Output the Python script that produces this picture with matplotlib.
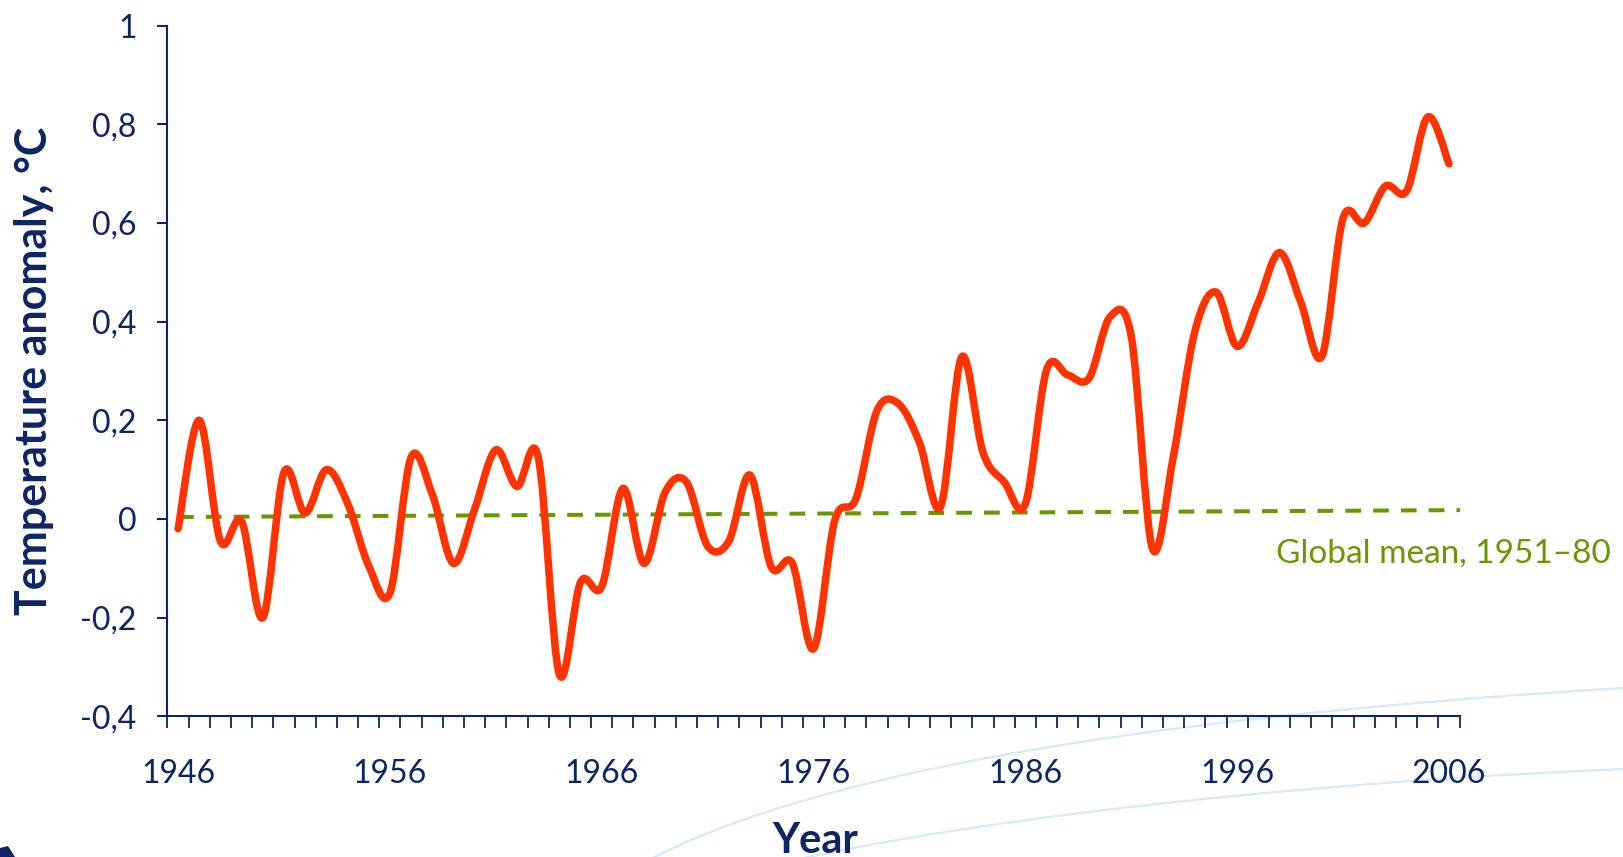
import numpy as np
import matplotlib
matplotlib.use("Agg")
import matplotlib.pyplot as plt
from matplotlib.path import Path
from matplotlib.patches import PathPatch, Polygon

plt.rcParams['font.family'] = ['Lato', 'DejaVu Sans']

# data
years = list(range(1946, 2007))
anomaly = [-0.02, 0.20, -0.045, -0.005, -0.20, 0.095, 0.012, 0.10, 0.032, -0.095,
           -0.15, 0.125, 0.05, -0.09, 0.02, 0.14, 0.066, 0.126, -0.315, -0.128,
           -0.137, 0.062, -0.09, 0.055, 0.075, -0.055, -0.045, 0.089, -0.097, -0.09,
           -0.263, -0.003, 0.041, 0.22, 0.234, 0.155, 0.025, 0.329, 0.135, 0.075,
           0.031, 0.302, 0.292, 0.285, 0.41, 0.37, -0.06, 0.13, 0.38, 0.46,
           0.35, 0.44, 0.54, 0.44, 0.33, 0.61, 0.60, 0.675, 0.665, 0.815, 0.72]
mean_years = [1946, 2006.6]
mean_values = [0.004, 0.018]
mean_label = "Global mean, 1951\u201380"
ytick_vals = [-0.4, -0.2, 0, 0.2, 0.4, 0.6, 0.8, 1.0]
ytick_labels = ["-0,4", "-0,2", "0", "0,2", "0,4", "0,6", "0,8", "1"]
xtick_years = [1946, 1956, 1966, 1976, 1986, 1996, 2006]

navy = '#0c2566'
red = '#ff3300'
green = '#669900'
pale = '#d3eafa'


def smooth_path(xs, ys):
    # excel style smoothed line: catmull-rom turned into bezier segments
    pts = np.column_stack([xs, ys]).astype(float)
    n = len(pts)
    verts = [pts[0]]
    codes = [Path.MOVETO]
    for i in range(n - 1):
        p0 = pts[i - 1] if i > 0 else pts[i]
        p1 = pts[i]
        p2 = pts[i + 1]
        p3 = pts[i + 2] if i + 2 < n else pts[i + 1]
        verts += [p1 + (p2 - p0) / 6, p2 - (p3 - p1) / 6, p2]
        codes += [Path.CURVE4] * 3
    return Path(verts, codes)


fig = plt.figure(figsize=(16.23, 8.57), dpi=100)

# pale decorative swooshes in the background
bg = fig.add_axes([0, 0, 1, 1], zorder=0)
bg.set_xlim(0, 1623)
bg.set_ylim(857, 0)
bg.axis('off')
for v in ([(645, 862), (800, 780), (1100, 720), (1623, 688)],
          [(795, 860), (950, 825), (1250, 785), (1623, 769)]):
    bg.add_patch(PathPatch(Path(v, [Path.MOVETO] + [Path.CURVE4] * 3),
                           fill=False, edgecolor=pale, lw=1.6))
bg.add_patch(Polygon([(0, 848), (8, 846), (15, 857), (0, 857)], closed=True,
                     color=navy, lw=0))

ax = fig.add_axes([0.1032, 0.1642, 0.7961, 0.8058], zorder=1)
ax.patch.set_alpha(0)

ax.plot(mean_years, mean_values, color=green, lw=2.9, dashes=(3.9, 3.0),
        zorder=2)
ax.add_patch(PathPatch(smooth_path(years, anomaly), fill=False,
                       edgecolor=red, lw=5.4, capstyle='round',
                       joinstyle='round', zorder=3))

ax.set_xlim(1945.5, 2006.5)
ax.set_ylim(-0.4, 1.0)

for s in ['top', 'right']:
    ax.spines[s].set_visible(False)
for s in ['left', 'bottom']:
    ax.spines[s].set_color(navy)
    ax.spines[s].set_linewidth(1.5)

ax.set_yticks(ytick_vals)
ax.set_yticklabels(ytick_labels)
ax.tick_params(axis='y', direction='out', length=7.2, width=1.5, color=navy,
               labelcolor=navy, labelsize=23, pad=15)

ax.set_xticks(xtick_years)
ax.set_xticklabels([str(y) for y in xtick_years])
ax.set_xticks(np.arange(1945.5, 2007, 1.0), minor=True)
ax.tick_params(axis='x', which='major', length=0, labelcolor=navy,
               labelsize=23, pad=31)
ax.tick_params(axis='x', which='minor', direction='out', length=8.6,
               width=1.3, color=navy)

ax.set_ylabel("Temperature anomaly, \u00b0C", fontsize=31, fontweight='bold',
              color=navy)
ax.yaxis.set_label_coords(-0.088, 0.5)

fig.text(815 / 1623, 4 / 857, "Year", fontsize=30, fontweight='bold',
         color=navy, ha='center', va='baseline')

fig.text(1276 / 1623, (857 - 563) / 857, mean_label, fontsize=24,
         color=green, ha='left', va='baseline')

fig.savefig("out.png", dpi=100)
